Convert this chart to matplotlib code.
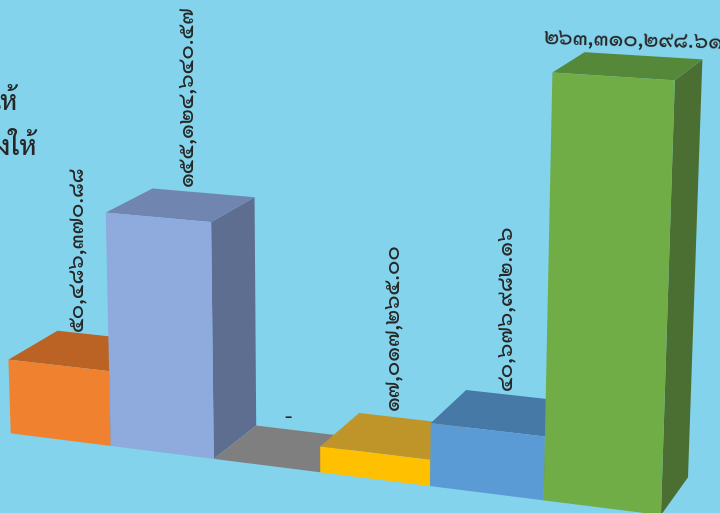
import numpy as np
import matplotlib
matplotlib.use("Agg")
import matplotlib.pyplot as plt

values = [50486370.88, 155124640.57, 0, 17017265.00, 40676982.16, 263310298.61]
labels = ["๕๐,๔๘๖,๓๗๐.๘๘", "๑๕๕,๑๒๔,๖๔๐.๕๗", "-", "๑๗,๐๑๗,๒๖๕.๐๐", "๔๐,๖๗๖,๙๘๒.๑๖", "๒๖๓,๓๑๐,๒๙๘.๖๑"]
cut_off_text = ["ให้", "งให้"]

front_colors = ["#F0812E", "#8FAADC", "#A5A5A5", "#FFC000", "#5B9BD5", "#70AD47"]
top_colors = ["#BA6325", "#7086B0", "#7F7F7F", "#BF9529", "#4679A6", "#56883A"]
side_colors = ["#9C5320", "#5E6E91", "#6A6A6A", "#9F7C22", "#3A658B", "#4B6F33"]

W, H = 720, 513
TEXT = "#262626"
FONT = ["Sarabun", "DejaVu Sans"]

# camera for the tilted 3d view: (bar index, depth, millions) -> image pixels, y down
CAMERA = np.array([[98.27144142, 50.92384624, -0.04607985, 10.71641684],
                   [5.75479501, -16.0029936, -1.51088324, 433.34682446],
                   [-0.01528152, 0.03831804, -0.00013933, 1.0]])

fig = plt.figure(figsize=(W / 100, H / 100), dpi=100, facecolor="#82D3EB")
# Axes3D insists on a square box, so let it run off the bottom of the figure
ax = fig.add_axes([0, 1 - W / H, 1, W / H], projection="3d", computed_zorder=False)
ax.patch.set_alpha(0)
ax.set_axis_off()


def get_proj():
    flip = np.array([[1, 0, 0], [0, -1, H], [0, 0, 1]], float)
    to_view = ax.transData.inverted().get_affine().get_matrix()
    m = to_view @ flip @ CAMERA
    return np.array([m[0], m[1], [0, 0, 0, -1], m[2]])


ax.get_proj = get_proj


def to_pixels(x, depth, height):
    q = CAMERA @ [x, depth, height, 1]
    return q[0] / q[2], q[1] / q[2]


# hidden faces are left out so the face sorting can't paint them on top
for i, v in enumerate(values):
    ax.bar3d(i, 0, 0, 1, 1, v / 1e6, shade=False, zorder=i + 1,
             color=["none", top_colors[i], front_colors[i], "none", "none", side_colors[i]])

# how far each label sits from the back middle of its bar top, in pixels
label_dx = [-29, -16, -19, -19, -15]
label_dy = [-5, -7, -4, -9, -6]
for i in range(5):
    u, v = to_pixels(i + 0.5, 1, values[i] / 1e6)
    rot = 0 if labels[i] == "-" else 90
    fig.text((u + label_dx[i]) / W, 1 - (v + label_dy[i]) / H, labels[i], rotation=rot,
             ha="center", va="bottom", family=FONT, fontsize=15.5, fontweight="medium", color=TEXT)

# the biggest bar's label lies flat and runs off the right edge
u, v = to_pixels(5.5, 1, values[5] / 1e6)
fig.text((u - 99) / W, 1 - (v - 12) / H, labels[5], rotation=-1.5, rotation_mode="anchor",
         ha="left", va="baseline", family=FONT, fontsize=15.5, fontweight="medium", color=TEXT)

# what is left of the title, the figure cuts it on the left
fig.text(18 / W, 1 - 110 / H, cut_off_text[0], ha="right", va="baseline", family=FONT, fontsize=19, fontweight="medium", color=TEXT)
fig.text(37 / W, 1 - 155 / H, cut_off_text[1], ha="right", va="baseline", family=FONT, fontsize=19, fontweight="medium", color=TEXT)

fig.savefig("out.png", facecolor=fig.get_facecolor())
